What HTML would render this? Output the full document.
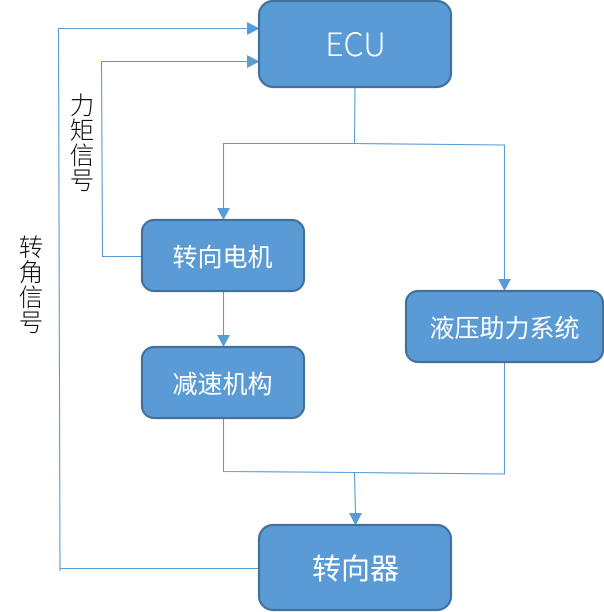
<!DOCTYPE html>
<html lang="zh">
<head>
<meta charset="utf-8">
<style>
html,body{margin:0;padding:0;background:#fff;width:604px;height:612px;overflow:hidden}
svg{display:block}
text{font-family:"Liberation Sans","Noto Sans CJK SC",sans-serif}
.n{fill:#5b9bd5;stroke:#41719c;stroke-width:2.2}
.l{fill:none;stroke:#5b9bd5;stroke-width:1.1}
.a{fill:#5b9bd5}
.w{fill:#fff;text-anchor:middle}
.b{fill:#111;font-size:24.500px;text-anchor:middle;font-weight:300}
</style>
</head>
<body>
<svg width="604" height="612" viewBox="0 0 604 612" xmlns="http://www.w3.org/2000/svg">
<polyline class="l" points="355,87 354.500,143.500 223.500,143.500 223.500,209"/>
<polyline class="l" points="354.500,143.500 504.500,145 504.500,280"/>
<polyline class="l" points="223.500,291 223.500,335"/>
<polyline class="l" points="223.500,418 223.500,471.500 354.500,472.500 355.500,514"/>
<polyline class="l" points="504.500,363 504.500,474 354.500,472.500"/>
<polyline class="l" points="259,568.500 60,568.500"/>
<polyline class="l" points="60,571 58.500,28.500 248,28.500"/>
<polyline class="l" points="141,256.500 102.500,256.500 101.500,61.500 248,61.500"/>
<polygon class="a" points="247,22 259.500,28.500 247,35"/>
<polygon class="a" points="247,55 259.500,61.500 247,68"/>
<polygon class="a" points="217,208 230,208 223.500,220"/>
<polygon class="a" points="498,279 511,279 504.500,291"/>
<polygon class="a" points="217,335 230,335 223.500,347"/>
<polygon class="a" points="349,513 362,513 355.500,525.500"/>
<rect class="n" x="259" y="1" width="192" height="86" rx="14"/>
<rect class="n" x="142" y="220" width="162" height="71" rx="12"/>
<rect class="n" x="142" y="347" width="162" height="71" rx="12"/>
<rect class="n" x="406" y="291" width="197" height="71" rx="12"/>
<rect class="n" x="259" y="525" width="192" height="85" rx="14"/>
<text class="w" x="355.500" y="56" font-size="32" style="font-family:'Noto Sans CJK SC',sans-serif;font-weight:300">ECU</text>
<text class="w" x="222.500" y="266" font-size="25">转向电机</text>
<text class="w" x="222.500" y="393" font-size="25">减速机构</text>
<text class="w" x="504.500" y="337" font-size="25">液压助力系统</text>
<text class="w" x="355.500" y="579" font-size="29">转向器</text>
<text class="b" x="82" y="114">力</text>
<text class="b" x="82" y="139">矩</text>
<text class="b" x="82" y="164">信</text>
<text class="b" x="82" y="189">号</text>
<text class="b" x="31" y="256">转</text>
<text class="b" x="31" y="281">角</text>
<text class="b" x="31" y="306">信</text>
<text class="b" x="31" y="331">号</text>
</svg>
</body>
</html>
